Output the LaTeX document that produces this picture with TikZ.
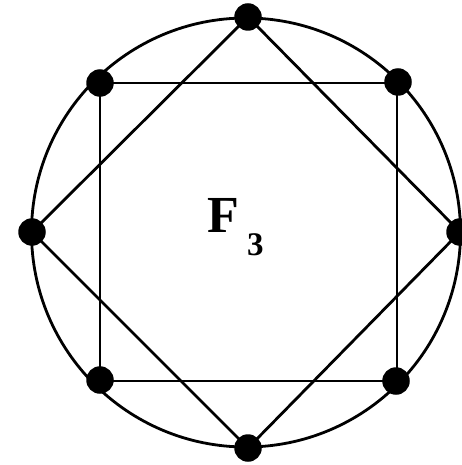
\documentclass[tikz,border=0pt]{standalone}
\usepackage{fontspec}
\setmainfont{Liberation Serif}
\begin{document}
\begin{tikzpicture}[x=1pt,y=-1pt,
  edge/.style={line width=2.8pt},
  vdot/.style={circle,fill=black,inner sep=0pt,minimum size=27.5pt}]
\useasboundingbox (0,0) rectangle (462,465);
\begin{scope}
\clip (0,0) rectangle (462,465);
\coordinate (c) at (246,232.5);
\draw[edge] (c) circle (214.5);
\node[vdot] (t) at (248,17) {};
\node[vdot] (r) at (460,232) {};
\node[vdot] (b) at (248,448) {};
\node[vdot] (l) at (32,232) {};
\node[vdot] (tl) at (100,83) {};
\node[vdot] (tr) at (398,82) {};
\node[vdot] (bl) at (100,380) {};
\node[vdot] (br) at (396,381) {};
\draw[edge] (t.center) -- (r.center) -- (b.center) -- (l.center) -- cycle;
\draw[edge] (100,83) -- (397,83) -- (397,381) -- (100,381) -- cycle;
\node[anchor=base west,inner sep=0pt,font=\bfseries\fontsize{52}{52}\selectfont] (F) at (207,232) {F};
\node[anchor=base west,inner sep=0pt,font=\bfseries\fontsize{33}{33}\selectfont] (s) at (247,255) {3};
\end{scope}
\end{tikzpicture}
\end{document}
